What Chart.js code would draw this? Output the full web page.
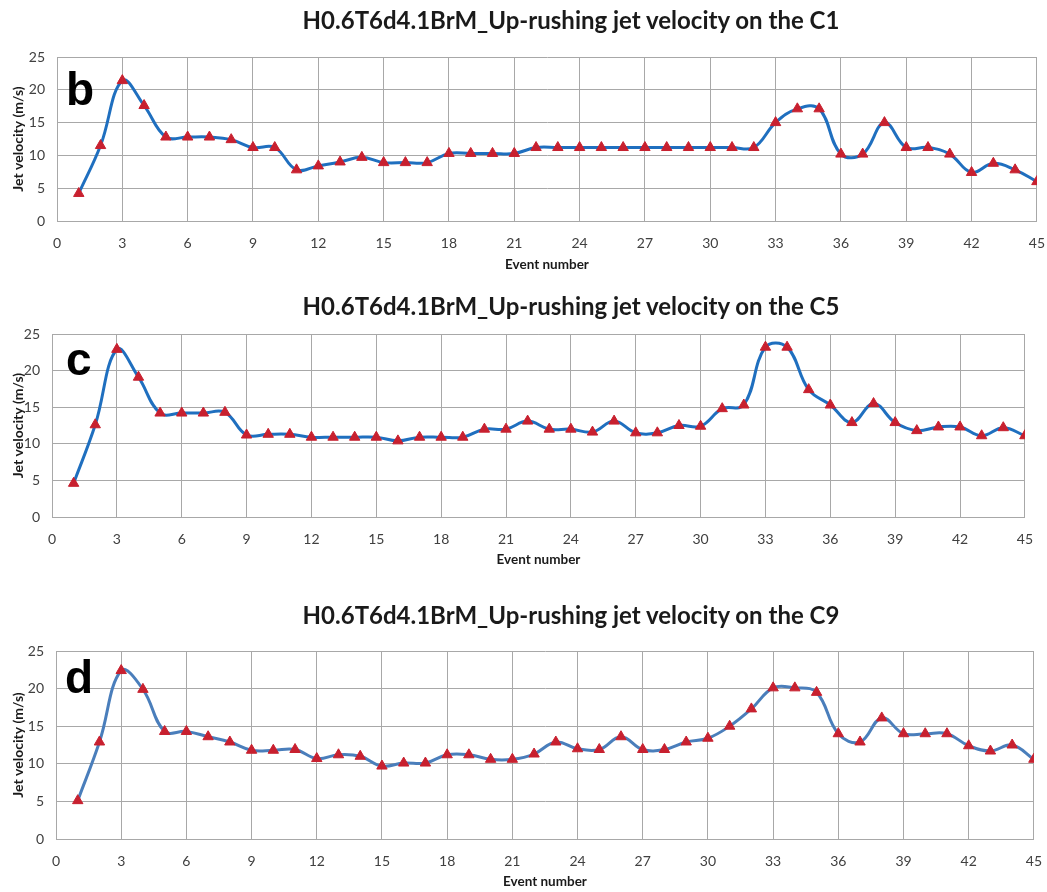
<!DOCTYPE html>
<html>
<head>
<meta charset="utf-8">
<script src="https://cdn.jsdelivr.net/npm/chart.js@4/dist/chart.umd.min.js"></script>
<style>
  body { margin: 0; background: #fff; width: 1047px; height: 892px; position: relative; overflow: hidden; font-family: Lato, sans-serif; }
  .panel { position: absolute; left: 0; }
  .title { position: absolute; left: 571px; transform: translateX(-50%); white-space: nowrap; font: bold 24px Lato, sans-serif; color: #1a1a1a; line-height: 28px; }
  .letter { position: absolute; font: bold 46px "Liberation Sans", Arial, sans-serif; line-height: 46px; color: #000; }
</style>
</head>
<body>
<div class="panel" style="top:0;width:1059px;height:285px"><canvas id="chartC1"></canvas></div>
<div class="panel" style="top:285px;width:1047px;height:295px"><canvas id="chartC5"></canvas></div>
<div class="panel" style="top:580px;width:1056px;height:312px"><canvas id="chartC9"></canvas></div>

<div class="title" style="top:6px">H0.6T6d4.1BrM_Up-rushing jet velocity on the C1</div>
<div class="title" style="top:292px">H0.6T6d4.1BrM_Up-rushing jet velocity on the C5</div>
<div class="title" style="top:601px">H0.6T6d4.1BrM_Up-rushing jet velocity on the C9</div>
<div class="letter" style="left:66px;top:66px">b</div>
<div class="letter" style="left:66px;top:336px">c</div>
<div class="letter" style="left:65px;top:654px">d</div>

<script>
const eventNumbers = [1, 2, 3, 4, 5, 6, 7, 8, 9, 10, 11, 12, 13, 14, 15, 16, 17, 18, 19, 20, 21, 22, 23,
    24, 25, 26, 27, 28, 29, 30, 31, 32, 33, 34, 35, 36, 37, 38, 39, 40, 41, 42, 43, 44, 45];

const velocityC1 = [4.2, 11.5, 21.4, 17.6, 12.8, 12.8, 12.8, 12.4, 11.2, 11.2, 7.8, 8.4, 9.0, 9.7, 8.9,
    8.9, 8.9, 10.3, 10.3, 10.3, 10.3, 11.2, 11.2, 11.2, 11.2, 11.2, 11.2, 11.2, 11.2, 11.2, 11.2,
    11.2, 15.0, 17.1, 17.1, 10.2, 10.2, 15.0, 11.2, 11.2, 10.2, 7.4, 8.8, 7.8, 6.0];

const velocityC5 = [4.6, 12.6, 22.9, 19.1, 14.2, 14.2, 14.2, 14.3, 11.2, 11.3, 11.3, 10.9, 10.9, 10.9, 10.9,
    10.4, 10.9, 10.9, 10.9, 12.0, 12.0, 13.1, 12.0, 12.0, 11.6, 13.1, 11.5, 11.5, 12.5, 12.4, 14.8,
    15.3, 23.2, 23.2, 17.4, 15.3, 12.9, 15.5, 12.9, 11.8, 12.3, 12.3, 11.1, 12.2, 11.1];

const velocityC9 = [5.1, 12.9, 22.4, 19.9, 14.3, 14.3, 13.6, 12.9, 11.8, 11.8, 11.9, 10.7, 11.2, 11.0, 9.7,
    10.1, 10.1, 11.2, 11.2, 10.6, 10.6, 11.3, 12.9, 12.0, 11.9, 13.6, 11.9, 11.9, 12.9, 13.4, 15.0,
    17.3, 20.1, 20.1, 19.5, 14.0, 12.9, 16.1, 14.0, 14.0, 14.0, 12.4, 11.7, 12.5, 10.6];

const xMin = 0, xMax = 45, xStep = 3;
const yMin = 0, yMax = 25, yStep = 5;

const gridColor = '#a8a8a8';
const tickColor = '#404040';

function makeChart(id, values, lineColor, box) {
    const points = eventNumbers.map((n, i) => ({ x: n, y: values[i] }));
    return new Chart(document.getElementById(id), {
        type: 'line',
        data: {
            datasets: [{
                data: points,
                borderColor: lineColor,
                borderWidth: 3,
                tension: 0.4,
                pointStyle: 'triangle',
                pointRadius: 6,
                pointBackgroundColor: '#c8202f',
                pointBorderColor: '#c8202f',
                pointBorderWidth: 1,
                fill: false
            }]
        },
        options: {
            responsive: true,
            maintainAspectRatio: false,
            animation: false,
            layout: { padding: { top: box.top, left: 6, right: 12, bottom: 0 } },
            plugins: { legend: { display: false }, tooltip: { enabled: false } },
            scales: {
                x: {
                    type: 'linear',
                    min: xMin,
                    max: xMax,
                    afterFit: scale => { scale.height = box.xHeight; },
                    grid: { color: gridColor, lineWidth: 1, drawTicks: false },
                    border: { color: gridColor },
                    ticks: { stepSize: xStep, padding: 14, color: tickColor, font: { family: 'Lato', size: 14 } },
                    title: {
                        display: true,
                        text: 'Event number',
                        color: '#1a1a1a',
                        font: { family: 'Lato', size: 13.5, weight: 'bold' },
                        padding: { top: 0, bottom: box.xTitlePad }
                    }
                },
                y: {
                    min: yMin,
                    max: yMax,
                    afterFit: scale => { scale.width = box.left - 6; },
                    grid: { color: gridColor, lineWidth: 1, drawTicks: false },
                    border: { color: gridColor },
                    ticks: { stepSize: yStep, padding: 12, color: tickColor, font: { family: 'Lato', size: 14 } },
                    title: {
                        display: true,
                        text: 'Jet velocity (m/s)',
                        color: '#1a1a1a',
                        font: { family: 'Lato', size: 14, weight: 'bold' },
                        padding: { top: 4, bottom: 0 }
                    }
                }
            }
        }
    });
}

makeChart('chartC1', velocityC1, '#1f6fbf', { top: 57, left: 57, xHeight: 64, xTitlePad: 12 });
makeChart('chartC5', velocityC5, '#1f6fbf', { top: 49, left: 52, xHeight: 63, xTitlePad: 12 });
makeChart('chartC9', velocityC9, '#4a7ebb', { top: 71, left: 56, xHeight: 53, xTitlePad: 2 });
</script>
</body>
</html>
